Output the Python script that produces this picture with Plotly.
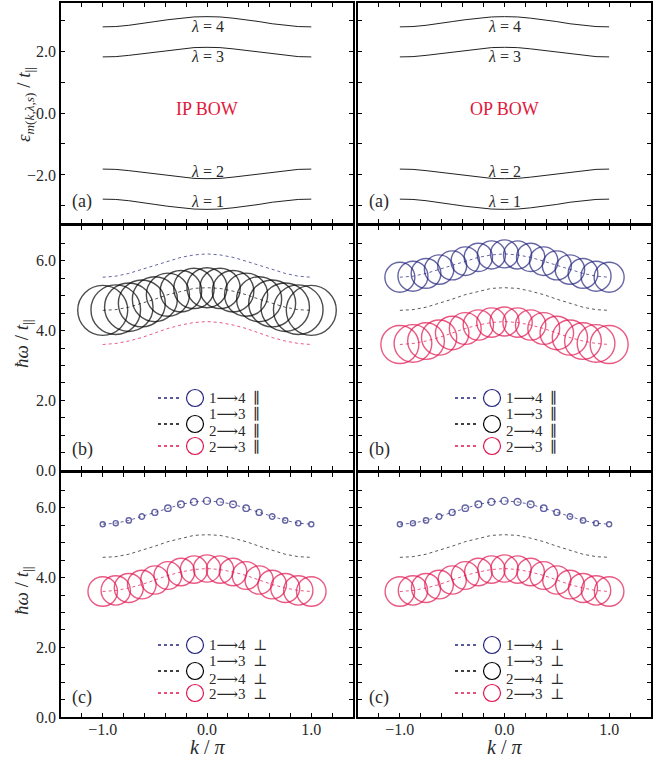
import plotly.graph_objects as go

# ---------------- data ----------------
k = [-1.0, -0.875, -0.75, -0.625, -0.5, -0.375, -0.25, -0.125, 0.0,
     0.125, 0.25, 0.375, 0.5, 0.625, 0.75, 0.875, 1.0]

band4 = [2.78, 2.79, 2.83, 2.88, 2.95, 3.01, 3.06, 3.10, 3.11, 3.10, 3.06, 3.01, 2.95, 2.88, 2.83, 2.79, 2.78]
band3 = [1.81, 1.82, 1.86, 1.91, 1.97, 2.02, 2.07, 2.11, 2.12, 2.11, 2.07, 2.02, 1.97, 1.91, 1.86, 1.82, 1.81]
band2 = [-1.81, -1.82, -1.86, -1.91, -1.97, -2.02, -2.07, -2.11, -2.12, -2.11, -2.07, -2.02, -1.97, -1.91, -1.86, -1.82, -1.81]
band1 = [-2.78, -2.79, -2.83, -2.88, -2.95, -3.01, -3.06, -3.10, -3.11, -3.10, -3.06, -3.01, -2.95, -2.88, -2.83, -2.79, -2.78]

trans14 = [5.53, 5.56, 5.64, 5.75, 5.87, 5.99, 6.10, 6.17, 6.20, 6.17, 6.10, 5.99, 5.87, 5.75, 5.64, 5.56, 5.53]
trans13 = [4.58, 4.60, 4.67, 4.78, 4.90, 5.03, 5.13, 5.21, 5.23, 5.21, 5.13, 5.03, 4.90, 4.78, 4.67, 4.60, 4.58]
trans23 = [3.60, 3.63, 3.70, 3.80, 3.93, 4.06, 4.16, 4.23, 4.26, 4.23, 4.16, 4.06, 3.93, 3.80, 3.70, 3.63, 3.60]

# transition weights (circle diameters, arbitrary units x10 px)
ip_par_w13 = [5.0, 4.96, 4.85, 4.69, 4.5, 4.31, 4.15, 4.04, 4.0, 4.04, 4.15, 4.31, 4.5, 4.69, 4.85, 4.96, 5.0]
op_par_w14 = [3.0, 3.0, 2.97, 2.94, 2.9, 2.86, 2.83, 2.81, 2.8, 2.81, 2.83, 2.86, 2.9, 2.94, 2.97, 3.0, 3.0]
op_par_w23 = [3.8, 3.77, 3.67, 3.52, 3.35, 3.18, 3.03, 2.93, 2.9, 2.93, 3.03, 3.18, 3.35, 3.52, 3.67, 3.77, 3.8]
perp_w14 = [0.5, 0.51, 0.53, 0.56, 0.6, 0.64, 0.67, 0.69, 0.7, 0.69, 0.67, 0.64, 0.6, 0.56, 0.53, 0.51, 0.5]
perp_w23 = [2.95, 2.93, 2.9, 2.86, 2.82, 2.78, 2.75, 2.73, 2.72, 2.73, 2.75, 2.78, 2.82, 2.86, 2.9, 2.93, 2.95]

x_tickvals = [-1.2, -1.0, -0.8, -0.6, -0.4, -0.2, 0.0, 0.2, 0.4, 0.6, 0.8, 1.0, 1.2]
x_ticktext = [" ", "\u22121.0", " ", " ", " ", " ", "0.0", " ", " ", " ", " ", "1.0", " "]
e_tickvals = [-3, -2, -1, 0, 1, 2, 3]
e_ticktext = [" ", "\u22122.0", " ", "0.0", " ", "2.0", " "]
w_tickvals = [0, 0.5, 1, 1.5, 2, 2.5, 3, 3.5, 4, 4.5, 5, 5.5, 6, 6.5]
w_ticktext = ["0.0", " ", " ", " ", "2.0", " ", " ", " ", "4.0", " ", " ", " ", "6.0", " "]

# ---------------- style ----------------
W, H = 656, 758
FONT = "Liberation Serif, DejaVu Serif, serif"
TXT = "#2a2a2a"
BLUE = "#23237e"
PINK = "#e0144f"
BLACK = "#000000"
BLUE_L = "rgba(35,35,126,0.7)"
PINK_L = "rgba(224,20,79,0.7)"
BLACK_L = "rgba(0,0,0,0.65)"
SCALE = 10.0

col_x = [(61, 353), (358, 651)]
row_y = [(3, 223), (226, 470), (473, 717)]


def px(x):
    return x / W


def py(y):
    return 1 - y / H


fig = go.Figure()
layout = dict(
    width=W, height=H, margin=dict(l=0, r=0, t=0, b=0, autoexpand=False),
    paper_bgcolor="white", plot_bgcolor="white", showlegend=False,
    font=dict(family=FONT, color=TXT, size=14),
)


def axname(r, c):
    i = r * 2 + c + 1
    return ("" if i == 1 else str(i))


for r in range(3):
    for c in range(2):
        s = axname(r, c)
        xa = dict(
            domain=[px(col_x[c][0]), px(col_x[c][1])], anchor="y" + s,
            range=[-1.4, 1.4], tickmode="array", tickvals=x_tickvals,
            ticktext=x_ticktext, showticklabels=(r == 2), automargin=False,
            ticks="inside", ticklen=4, tickwidth=1, tickcolor="black",
            ticklabelstandoff=-3,
            showline=True, linewidth=1.5, linecolor="black", mirror="allticks",
            showgrid=False, zeroline=False,
            tickfont=dict(family=FONT, size=16, color=TXT),
        )
        if r == 0:
            tv, tt, rg = e_tickvals, e_ticktext, [-3.55, 3.55]
        else:
            tv, tt, rg = w_tickvals, w_ticktext, [0, 7]
        ya = dict(
            domain=[py(row_y[r][1]), py(row_y[r][0])], anchor="x" + s,
            range=rg, tickmode="array", tickvals=tv, ticktext=tt,
            showticklabels=(c == 0), automargin=False,
            ticks="inside", ticklen=4, tickwidth=1, tickcolor="black",
            showline=True, linewidth=1.5, linecolor="black", mirror="allticks",
            showgrid=False, zeroline=False,
            tickfont=dict(family=FONT, size=16, color=TXT),
        )
        layout["xaxis" + s] = xa
        layout["yaxis" + s] = ya

annotations = []
shapes = []


def note(**kw):
    d = dict(showarrow=False, xanchor="center", yanchor="middle")
    d.update(kw)
    annotations.append(d)


# ---------------- row (a): bands ----------------
for c, label in enumerate(["IP BOW", "OP BOW"]):
    s = axname(0, c)
    for band in (band1, band2, band3, band4):
        fig.add_trace(go.Scatter(x=k, y=band, xaxis="x" + s, yaxis="y" + s, mode="lines",
                                 line=dict(color="#222222", width=1), hoverinfo="skip"))
    for lam, yv in ((4, 2.78), (3, 1.82), (2, -1.9), (1, -2.86)):
        note(x=0, y=yv, xref="x" + s, yref="y" + s, text="<i>\u03bb</i> = %d" % lam,
             font=dict(family=FONT, size=16, color=TXT))
    note(x=0, y=0.12, xref="x" + s, yref="y" + s, text=label,
         font=dict(family=FONT, size=18, color="#e0183c"))

# ---------------- rows (b),(c): transitions ----------------
panels = {
    (1, 0): {"13": ip_par_w13},
    (1, 1): {"14": op_par_w14, "23": op_par_w23},
    (2, 0): {"14": perp_w14, "23": perp_w23},
    (2, 1): {"14": perp_w14, "23": perp_w23},
}
series = {"14": (trans14, BLUE, BLUE_L), "13": (trans13, BLACK, BLACK_L), "23": (trans23, PINK, PINK_L)}

for (r, c), wts in panels.items():
    s = axname(r, c)
    for key in ("14", "13", "23"):
        yv, col, coll = series[key]
        fig.add_trace(go.Scatter(x=k, y=yv, xaxis="x" + s, yaxis="y" + s, mode="lines",
                                 line=dict(color=coll, width=1, dash="dot"), hoverinfo="skip"))
    for key, w in wts.items():
        yv, col, coll = series[key]
        fig.add_trace(go.Scatter(x=k, y=yv, xaxis="x" + s, yaxis="y" + s, mode="markers",
                                 marker=dict(symbol="circle-open", size=[v * SCALE for v in w],
                                             color=col, line=dict(width=1.4, color=col)),
                                 hoverinfo="skip"))

# ---------------- legends ----------------
ARR = "\u27f6"
for (r, c) in panels:
    dx = col_x[c][0] - 61
    dy = row_y[r][0] - 226
    sym = "\u2225" if r == 1 else "\u22a5"
    rows = [
        (398, BLUE, [("1" + ARR + "4\u2002" + sym, 398)]),
        (424, BLACK, [("1" + ARR + "3\u2002" + sym, 414), ("2" + ARR + "4\u2002" + sym, 431.5)]),
        (446, PINK, [("2" + ARR + "3\u2002" + sym, 447)]),
    ]
    for yc, col, texts in rows:
        shapes.append(dict(type="line", xref="paper", yref="paper",
                           x0=px(158 + dx), x1=px(179 + dx), y0=py(yc + dy), y1=py(yc + dy),
                           line=dict(color=col, width=1.3, dash="dot")))
        rad = 8.5
        shapes.append(dict(type="circle", xref="paper", yref="paper",
                           x0=px(195 + dx - rad), x1=px(195 + dx + rad),
                           y0=py(yc + dy + rad), y1=py(yc + dy - rad),
                           line=dict(color=col, width=1.2)))
        for t, ty in texts:
            note(x=px(207 + dx), y=py(ty + dy), xref="paper", yref="paper",
                 xanchor="left", text=t, font=dict(family=FONT, size=15, color=TXT))

# ---------------- panel labels & axis titles ----------------
for r, lab in enumerate(["(a)", "(b)", "(c)"]):
    ypos = {0: 201.7, 1: 449.3, 2: 697.3}[r]
    for c in range(2):
        note(x=px(col_x[c][0] + 21), y=py(ypos), xref="paper", yref="paper", text=lab,
             font=dict(family=FONT, size=18, color=TXT))

note(x=px(25), y=py(105), xref="paper", yref="paper", textangle=-90,
     text="<i>\u03b5</i><sub><i>m</i>(<i>k</i>,<i>\u03bb</i>,<i>s</i>)</sub> / <i>t</i><sub>||</sub>",
     font=dict(family=FONT, size=19, color=TXT))
for r in (1, 2):
    note(x=px(23), y=py((row_y[r][0] + row_y[r][1]) / 2 - 4), xref="paper", yref="paper",
         textangle=-90, text="<i>\u0127\u03c9</i> / <i>t</i><sub>||</sub>",
         font=dict(family=FONT, size=19, color=TXT))
for c in range(2):
    note(x=px((col_x[c][0] + col_x[c][1]) / 2), y=py(747), xref="paper", yref="paper",
         text="<i>k</i> / <i>\u03c0</i>", font=dict(family=FONT, size=20, color=TXT))

layout["annotations"] = annotations
layout["shapes"] = shapes
fig.update_layout(**layout)
fig.write_html("out.html", config={"displayModeBar": False},
               post_script="document.body.style.margin='0px';")
